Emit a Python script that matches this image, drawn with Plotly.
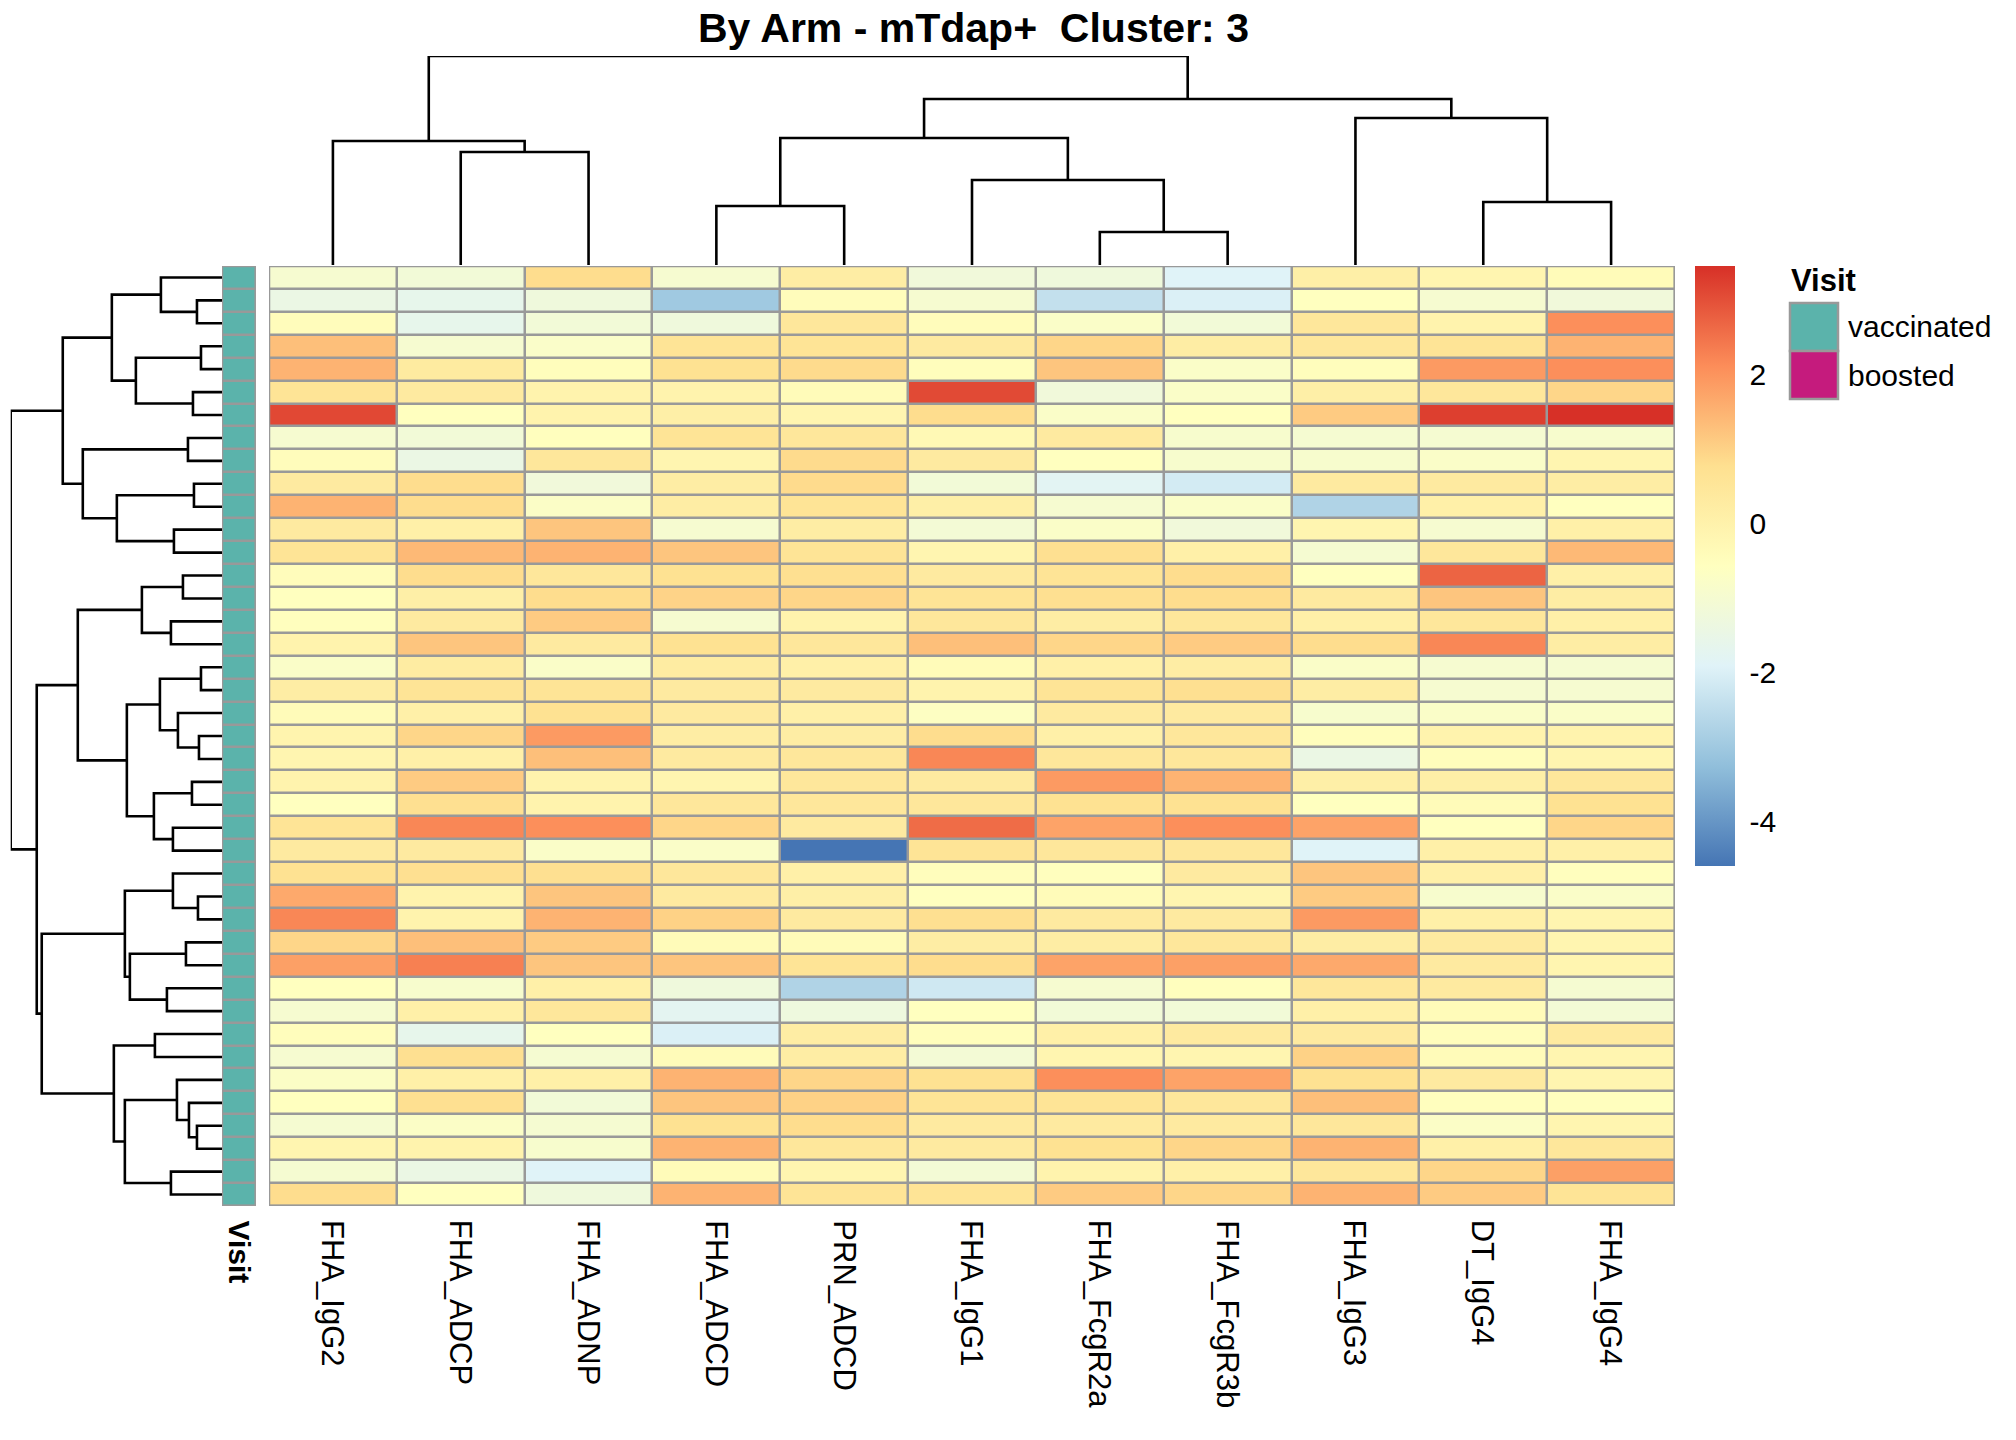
import numpy as np
import plotly.graph_objects as go

W, H = 2016, 1440

# ---- data (rows in the clustered display order) ----
features = ['FHA_IgG2', 'FHA_ADCP', 'FHA_ADNP', 'FHA_ADCD', 'PRN_ADCD', 'FHA_IgG1',
            'FHA_FcgR2a', 'FHA_FcgR3b', 'FHA_IgG3', 'DT_IgG4', 'FHA_IgG4']

fha_igg2 = [-0.98, -1.45, -0.45, 1.3, 1.5, 0.6, 3.1, -0.98, -0.45, 0.32, 1.5, 0.32, 0.6, -0.45,
            -0.58, -0.55, -0.05, -0.78, 0.2, -0.4, -0.1, -0.15, -0.05, -0.58, 0.6, 0.32, 0.7, 1.65,
            2.2, 0.93, 1.8, -0.58, -0.98, -0.5, -0.98, -0.75, -0.58, -1.0, -0.15, -1.0, 0.82]
fha_adcp = [-1.15, -1.6, -1.6, -0.98, 0.3, 0.32, -0.58, -1.15, -1.45, 0.82, 0.82, 0.08, 1.4, 0.82,
            0.1, 0.32, 1.2, 0.25, 0.6, 0.08, 0.93, 0.08, 1.1, 0.75, 2.2, 0.32, 0.75, -0.05,
            -0.05, 1.3, 2.3, -0.9, 0.08, -1.6, 0.75, 0.08, 0.75, -0.75, -0.05, -1.45, -0.58]
fha_adnp = [0.82, -1.25, -1.15, -0.8, -0.5, -0.05, -0.05, -0.55, 0.45, -1.2, -0.75, 1.2, 1.5, 0.45,
            0.82, 1.1, 0.32, -0.78, 0.6, 0.7, 1.9, 1.3, -0.05, -0.05, 2.07, -0.78, 0.75, 1.2,
            1.5, 1.1, 1.2, 0.08, 0.45, -0.58, -1.0, 0.08, -1.15, -1.0, -0.9, -1.92, -1.25]
fha_adcd = [-0.98, -3.0, -1.25, 0.6, 0.7, -0.05, 0.1, 0.6, -0.15, 0.2, 0.2, -0.98, 1.2, 0.7,
            0.97, -0.98, 0.7, 0.25, 0.32, 0.32, 0.2, 0.32, -0.15, 0.45, 0.93, -0.78, 0.45, 0.32,
            1.0, -0.4, 1.2, -1.25, -1.75, -2.0, -0.4, 1.5, 1.2, 0.7, 1.5, -0.4, 1.5]
prn_adcd = [0.2, -0.45, 0.45, 0.6, 0.85, -0.4, -0.15, 0.45, 0.85, 0.85, 0.6, 0.2, 0.6, 0.75,
            0.93, -0.05, 0.45, 0.08, 0.32, 0.08, 0.2, 0.45, 0.45, 0.45, 0.32, -4.6, 0.08, 0.1,
            0.32, -0.4, 0.6, -2.74, -1.3, 0.2, 0.2, 0.93, 1.0, 0.82, 0.45, -0.15, 0.6]
fha_igg1 = [-1.2, -0.98, -0.45, 0.32, -0.5, 3.07, 0.82, -0.3, 0.32, -1.15, 0.1, -1.1, -0.15, 0.32,
            0.6, 0.45, 1.3, -0.4, -0.05, -0.65, 0.82, 2.2, 0.32, 0.45, 2.58, 0.6, -0.5, -0.58,
            0.75, 0.2, 0.82, -2.2, -0.58, -0.5, -1.1, 0.7, 0.6, 0.32, 0.32, -1.1, 0.6]
fha_fcgr2a = [-1.25, -2.41, -0.78, 0.93, 1.2, -1.2, -0.78, 0.32, -0.58, -1.8, -0.98, -0.78, 0.75, 0.6,
              0.75, 0.2, 0.93, 0.08, 0.6, 0.32, 0.08, 0.45, 1.9, 0.7, 1.75, 0.45, -0.55, -0.4,
              0.32, 0.2, 1.75, -0.98, -1.15, 0.08, -0.15, 2.07, 0.6, 0.32, 0.7, -0.05, 1.1]
fha_fcgr3b = [-1.92, -2.0, -1.15, 0.2, -0.78, -0.78, -0.58, -0.9, -0.9, -2.13, -0.78, -1.2, 0.08, 0.82,
              0.82, 0.45, 1.1, 0.2, 0.75, 0.32, 0.45, 0.45, 1.5, 0.7, 2.07, 0.45, 0.32, -0.15,
              0.32, 0.45, 1.8, -0.55, -1.15, 0.32, -0.15, 1.75, 0.45, 0.32, 0.93, 0.08, 0.93]
fha_igg3 = [0.1, -0.58, 0.45, 0.45, -0.5, 0.1, 1.1, -1.0, -0.9, 0.32, -2.74, -0.15, -1.0, -0.58,
            0.32, 0.08, 0.82, -0.78, 0.2, -0.9, -0.5, -1.45, 0.1, -0.58, 1.75, -1.92, 1.2, 1.1,
            1.9, 0.2, 1.65, 0.45, 0.08, 0.32, 1.0, 0.7, 1.3, 0.45, 1.5, 0.45, 1.5]
dt_igg4 = [-0.15, -0.98, -0.05, 0.6, 1.9, 0.45, 3.23, -1.0, -0.78, 0.32, 0.08, -0.98, 0.45, 2.7,
           1.2, 0.45, 2.2, -0.98, -0.98, -0.78, -0.05, -0.5, 0.1, -0.4, -0.58, 0.08, 0.08, -0.9,
           0.08, 0.32, 0.32, 0.32, -0.4, -0.5, -0.4, 0.32, -0.55, -0.75, 0.08, 0.93, 1.1]
fha_igg4 = [-0.4, -1.2, 2.07, 1.5, 2.07, 0.93, 3.45, -0.9, -0.15, 0.2, -0.58, 0.08, 1.4, 0.08,
            0.2, 0.08, 0.2, -1.0, -0.98, -0.78, -0.05, -0.15, 0.45, 0.7, 0.93, 0.08, -0.55, -0.78,
            -0.15, -0.15, -0.15, -1.0, -1.1, 0.32, -0.15, -0.15, -0.55, -0.15, 0.45, 1.8, 0.6]

visit = ['vaccinated'] * 41
visit_levels = ['vaccinated', 'boosted']
visit_colors = ['#5BB3AB', '#C51B7D']

# linkage as [left, right, height]; leaves 0..n-1 in display order, merge k gets id n+k
row_merges = [
  [1, 2, 25], [0, 41, 61], [3, 4, 21], [5, 6, 29], [43, 44, 86], [42, 45, 110],
  [7, 8, 34], [9, 10, 28], [11, 12, 48], [48, 49, 105], [47, 50, 139], [46, 51, 159],
  [13, 14, 39], [15, 16, 51], [53, 54, 80], [17, 18, 21], [20, 21, 23], [19, 57, 44],
  [56, 58, 62], [22, 23, 30], [24, 25, 49], [60, 61, 68], [59, 62, 95], [55, 63, 144],
  [27, 28, 24], [26, 65, 49], [29, 30, 36], [31, 32, 55], [67, 68, 92], [66, 69, 97],
  [33, 34, 67], [37, 38, 25], [36, 72, 33], [35, 73, 45], [39, 40, 51], [74, 75, 97],
  [71, 76, 108], [70, 77, 180], [64, 78, 185], [52, 79, 211],
]
col_merges = [
  [1, 2, 113], [0, 11, 124], [3, 4, 59], [6, 7, 33], [5, 14, 85],
  [13, 15, 127], [9, 10, 63], [8, 17, 147], [16, 18, 166], [12, 19, 209],
]

cbar_ticks = [-4, -2, 0, 2]
title = 'By Arm - mTdap+  Cluster: 3'

# ---- build ----
z = np.column_stack([fha_igg2, fha_adcp, fha_adnp, fha_adcd, prn_adcd, fha_igg1,
                     fha_fcgr2a, fha_fcgr3b, fha_igg3, dt_igg4, fha_igg4])
n_rows, n_cols = z.shape
assert n_rows == 41 and n_cols == len(features)

palette = ['#4575B4', '#91BFDB', '#E0F3F8', '#FFFFBF', '#FEE090', '#FC8D59', '#D73027']
colorscale = [[i / (len(palette) - 1), c] for i, c in enumerate(palette)]

border = '#999999'
font = 'Liberation Sans, Arial, sans-serif'


def px(x):
  return x / W


def py(y):
  return 1 - y / H


def dendro_lines(merges, n):
  pos = [float(i) for i in range(n)] + [0.0] * len(merges)
  hgt = [0.0] * (n + len(merges))
  p, h = [], []
  for k, (l, r, ht) in enumerate(merges):
    pos[n + k] = (pos[l] + pos[r]) / 2
    hgt[n + k] = ht
    p += [pos[l], pos[l], pos[r], pos[r], None]
    h += [hgt[l], ht, ht, hgt[r], None]
  return p, h


fig = go.Figure()

fig.add_trace(go.Heatmap(
  z=z, x=list(range(n_cols)), y=list(range(n_rows)),
  colorscale=colorscale, zmin=z.min(), zmax=z.max(),
  xgap=2.5, ygap=2.5, hoverinfo='skip',
  colorbar=dict(
    x=px(1695), xanchor='left', xpad=0,
    y=py(566), yanchor='middle', ypad=0,
    len=600, lenmode='pixels', thickness=40, thicknessmode='pixels',
    outlinewidth=0, tickvals=cbar_ticks, ticktext=[str(t) for t in cbar_ticks],
    ticks='outside', ticklen=9, tickcolor='rgba(0,0,0,0)',
    tickfont=dict(size=30, color='black', family=font),
  ),
))

visit_idx = [[visit_levels.index(v)] for v in visit]
fig.add_trace(go.Heatmap(
  z=visit_idx, x=[0], y=list(range(n_rows)), xaxis='x2', yaxis='y',
  colorscale=[[0, visit_colors[0]], [1, visit_colors[1]]], zmin=0, zmax=1,
  showscale=False, xgap=2.5, ygap=2.5, hoverinfo='skip',
))

rp, rh = dendro_lines(row_merges, n_rows)
fig.add_trace(go.Scatter(
  x=rh, y=rp, xaxis='x3', yaxis='y', mode='lines',
  line=dict(color='black', width=2.6), cliponaxis=False, hoverinfo='skip', showlegend=False,
))

cp, ch = dendro_lines(col_merges, n_cols)
fig.add_trace(go.Scatter(
  x=cp, y=ch, xaxis='x', yaxis='y2', mode='lines',
  line=dict(color='black', width=2.6), cliponaxis=False, hoverinfo='skip', showlegend=False,
))

hm_left, hm_right, hm_top, hm_bottom = 269, 1675, 266, 1206
ann_left, ann_right = 222, 256

fig.update_layout(
  width=W, height=H,
  margin=dict(l=0, r=0, t=0, b=0, pad=0),
  paper_bgcolor='white', plot_bgcolor='white',
  showlegend=False,
  font=dict(family=font, color='black'),
  xaxis=dict(domain=[px(hm_left), px(hm_right)], range=[-0.5, n_cols - 0.5], visible=False),
  yaxis=dict(domain=[py(hm_bottom), py(hm_top)], range=[n_rows - 0.5, -0.5], visible=False),
  xaxis2=dict(domain=[px(ann_left), px(ann_right)], range=[-0.5, 0.5], visible=False, anchor='y'),
  xaxis3=dict(domain=[px(10.7), px(ann_left)], range=[row_merges[-1][2], 0], visible=False, anchor='y'),
  yaxis2=dict(domain=[py(265), py(56)], range=[0, col_merges[-1][2]], visible=False, anchor='x'),
)

# grey cell borders behind the gapped heatmaps, and outer frames
for xr, x1 in (('x', n_cols - 0.5), ('x2', 0.5)):
  fig.add_shape(type='rect', xref=xr, yref='y', x0=-0.5, x1=x1, y0=-0.5, y1=n_rows - 0.5,
                fillcolor=border, line=dict(width=0), layer='below')
  fig.add_shape(type='rect', xref=xr, yref='y', x0=-0.5, x1=x1, y0=-0.5, y1=n_rows - 0.5,
                line=dict(color=border, width=2.5), layer='above')

# title
fig.add_annotation(text=title, xref='paper', yref='paper', x=px(973), y=py(28),
                   xanchor='center', yanchor='middle', showarrow=False,
                   font=dict(size=41, family=font, color='black', weight='bold'))

# column labels
for i, name in enumerate(features):
  fig.add_annotation(text=name, xref='x', yref='paper', x=i, y=py(1218),
                     xanchor='center', yanchor='top', textangle=90, showarrow=False,
                     font=dict(size=31, family=font, color='black'))
fig.add_annotation(text='Visit', xref='x2', yref='paper', x=0, y=py(1218),
                   xanchor='center', yanchor='top', textangle=90, showarrow=False,
                   font=dict(size=30, family=font, color='black', weight='bold'))

# annotation legend
fig.add_annotation(text='Visit', xref='paper', yref='paper', x=px(1789), y=py(281),
                   xanchor='left', yanchor='middle', showarrow=False,
                   font=dict(size=31, family=font, color='black', weight='bold'))
box_top, box_h = 303, 48
for k, (lab, col) in enumerate(zip(visit_levels, visit_colors)):
  y0 = box_top + k * box_h
  fig.add_shape(type='rect', xref='paper', yref='paper',
                x0=px(1790), x1=px(1838), y0=py(y0), y1=py(y0 + box_h),
                fillcolor=col, line=dict(color=border, width=2.5))
  fig.add_annotation(text=lab, xref='paper', yref='paper', x=px(1846), y=py(y0 + box_h / 2),
                     xanchor='left', yanchor='middle', showarrow=False,
                     font=dict(size=30, family=font, color='black'))

# drop the default 8px page margin so the figure sits at the window's corner
fig.write_html('out.html', config={'displayModeBar': False},
               post_script="document.body.style.margin = '0px';")
